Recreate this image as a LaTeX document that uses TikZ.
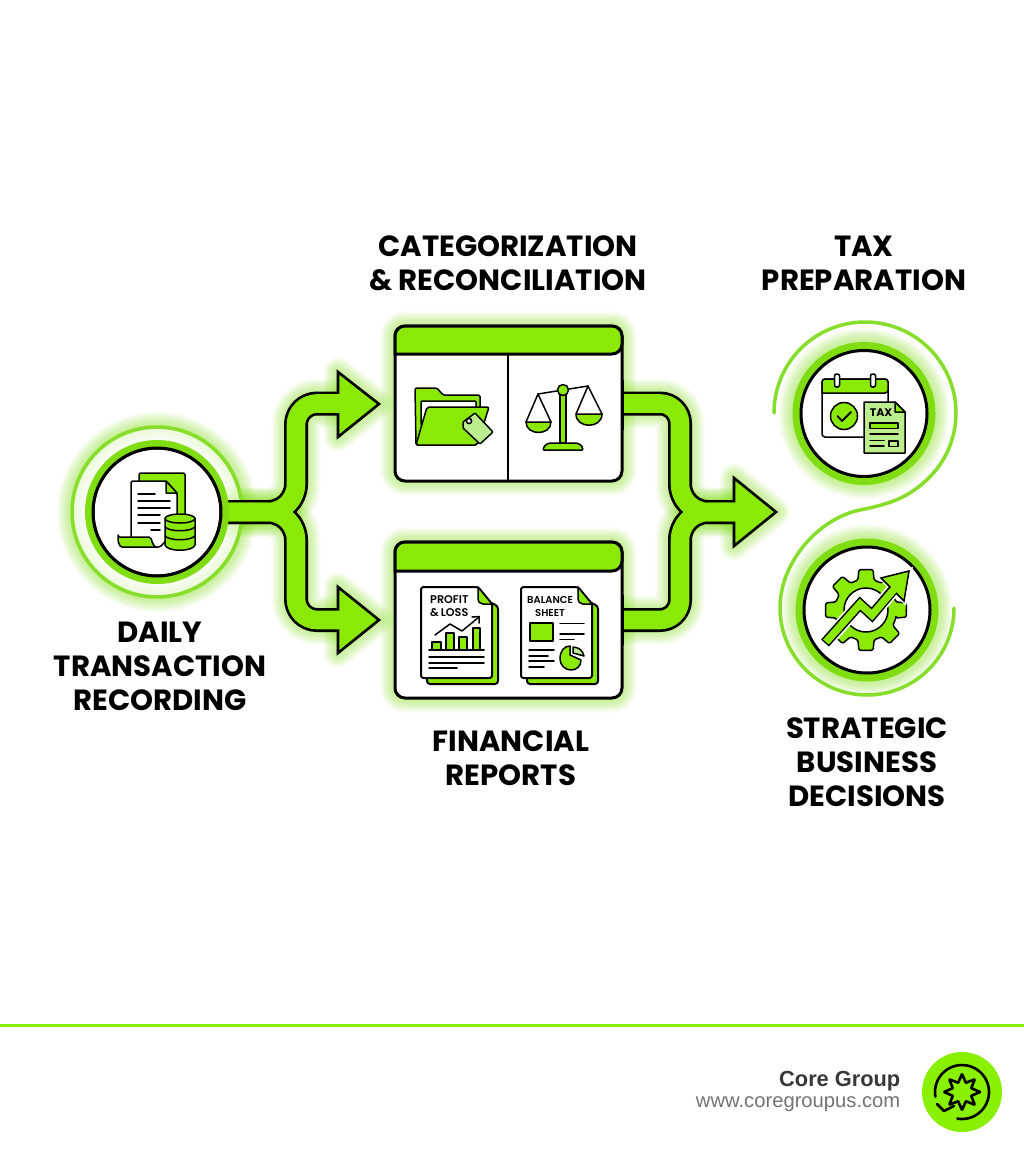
\documentclass[tikz,border=0pt]{standalone}
\usepackage{fontspec}
\setmainfont{Poppins}[BoldFont=* SemiBold]
\newfontfamily\labfont{Poppins}[UprightFont=* Bold]
\newfontfamily\footfont{Liberation Sans}
\definecolor{gfill}{HTML}{8AEA06}
\definecolor{gring}{HTML}{7FDD12}
\definecolor{gthin}{HTML}{86DE2A}
\definecolor{gglow}{HTML}{78E000}
\definecolor{gpale}{HTML}{BDEE8E}
\definecolor{gfoot}{HTML}{88F000}
\newcommand{\glowpath}[2]{\foreach \d in {3,6,...,27}{\draw[gglow,opacity=.05,line width={#1pt+\d pt},line join=round,line cap=round] #2;}}
\tikzset{
  lab/.style={font=\labfont\fontsize{29.2}{34}\selectfont,align=center,text=black,inner sep=0pt},
  small/.style={font=\rmfamily\bfseries\fontsize{11.2}{12}\selectfont,align=center,text=black,inner sep=0pt},
  ic/.style={draw=black,line width=1.5pt,line join=round,line cap=round},
  icb/.style={draw=black,line width=2pt,line join=round,line cap=round},
  ringnode/.style={circle,draw=black,line width=3pt,fill=white,minimum size=#1,inner sep=0pt},
  boxnode/.style={draw=black,line width=3pt,fill=white,rounded corners=10pt,minimum width=227pt,inner sep=0pt},
  shaftk/.style={draw=black,line width=24pt,line join=round},
  shaftg/.style={draw=gfill,line width=18.6pt,line join=round},
  headk/.style={draw=black,fill=gfill,line width=2.6pt,line join=miter},
  thin/.style={draw=gthin,line width=3.5pt,line cap=round},
}
\begin{document}
\begin{tikzpicture}[x=1pt,y=-1pt]
\useasboundingbox (0,0) rectangle (1024,1154);
\fill[white] (0,0) rectangle (1024,1154);
% anchor coordinates
\coordinate (dc) at (157,512);
\coordinate (cc) at (508.5,403.5);
\coordinate (rc) at (508.5,620);
\coordinate (tc) at (864,413.5);
\coordinate (sc) at (867,610);
\coordinate (fu) at (296,512);
\coordinate (fuc) at (296,403.5);
\coordinate (fue) at (340,403.5);
\coordinate (flc) at (296,620);
\coordinate (fle) at (340,620);
\coordinate (mu) at (680,403.5);
\coordinate (mj) at (680,512);
\coordinate (ml) at (680,620);
\coordinate (me) at (736,512);
% glows
\glowpath{22}{[rounded corners=28pt] (dc) -- (fu) [rounded corners=21pt] -- (fuc) -- (fue)}
\glowpath{22}{[rounded corners=28pt] (dc) -- (fu) [rounded corners=21pt] -- (flc) -- (fle)}
\glowpath{22}{[rounded corners=20pt] (cc) -- (mu) [rounded corners=28pt] -- (mj) -- (me)}
\glowpath{22}{[rounded corners=20pt] (rc) -- (ml) [rounded corners=28pt] -- (mj) -- (me)}
\glowpath{2}{(338,372) -- (379,404) -- (338,437) -- cycle}
\glowpath{2}{(338,587) -- (379,620) -- (338,653) -- cycle}
\glowpath{2}{(734,478) -- (776,512) -- (734,546) -- cycle}
\glowpath{2}{[rounded corners=10pt] (395,326) rectangle (622,481)}
\glowpath{2}{[rounded corners=10pt] (395,542) rectangle (622,698)}
\glowpath{3}{(dc) circle[radius=85]}
\glowpath{2}{(tc) circle[radius=71]}
\glowpath{2}{(sc) circle[radius=71]}
% ring discs
\fill[white,opacity=.65] (dc) circle[radius=83];
\fill[gring] (tc) circle[radius=71.5];
\fill[gring] (sc) circle[radius=71.5];
\draw[thin] (dc) circle[radius=85];
% nodes
\node[ringnode=128pt] (daily) at (dc) {};
\node[ringnode=126pt] (tax) at (tc) {};
\node[ringnode=126pt] (strat) at (sc) {};
% connector outlines
\draw[shaftk,rounded corners=28pt] (daily.east) -- (fu) [rounded corners=21pt] -- (fuc) -- (fue);
\draw[shaftk,rounded corners=28pt] (daily.east) -- (fu) [rounded corners=21pt] -- (flc) -- (fle);
\node[boxnode,minimum height=155pt] (cat) at (cc) {};
\node[boxnode,minimum height=156pt] (rep) at (rc) {};
\draw[shaftk,rounded corners=20pt] (cat.east |- mu) -- (mu) [rounded corners=28pt] -- (mj) -- (me);
\draw[shaftk,rounded corners=20pt] (rep.east |- ml) -- (ml) [rounded corners=28pt] -- (mj) -- (me);
% arrow heads
\draw[headk] (338,372) -- (379,404) -- (338,437) -- cycle;
\draw[headk] (338,587) -- (379,620) -- (338,653) -- cycle;
\draw[headk] (734,478) -- (776,512) -- (734,546) -- cycle;
% connector fills
\draw[shaftg,rounded corners=28pt] (daily.east) -- (fu) [rounded corners=21pt] -- (fuc) -- (fue);
\draw[shaftg,rounded corners=28pt] (daily.east) -- (fu) [rounded corners=21pt] -- (flc) -- (fle);
\draw[shaftg,rounded corners=20pt] (cat.east |- mu) -- (mu) [rounded corners=28pt] -- (mj) -- (me);
\draw[shaftg,rounded corners=20pt] (rep.east |- ml) -- (ml) [rounded corners=28pt] -- (mj) -- (me);
% ring over the stems of the first circle
\fill[gring,even odd rule] (dc) circle[radius=72] (dc) circle[radius=64];
\draw[black,line width=3pt] (daily) circle[radius=64];
% box right borders over the stems and box headers
\draw[black,line width=3pt] (622,380) -- (622,430);
\draw[black,line width=3pt] (622,595) -- (622,645);
\draw[black,line width=3pt,fill=gfill,rounded corners=10pt] (395,354) -- (395,326) -- (622,326) -- (622,354) [sharp corners] -- cycle;
\draw[black,line width=3pt,fill=gfill,rounded corners=10pt] (395,571) -- (395,542) -- (622,542) -- (622,571) [sharp corners] -- cycle;
\draw[black,line width=2.6pt] (508,354) -- (508,481);
% S line
\draw[thin] plot[domain=180:405,samples=60,smooth] ({865+91*cos(\x)},{413+91*sin(\x)})
  .. controls (908,498.5) and (889,504) .. (860,510)
  .. controls (826.4,517) and (797.2,545.3) .. (785.2,578.2)
  -- plot[domain=200:0,samples=60,smooth] ({867+87*cos(\x)},{608+87*sin(\x)});
% daily icon
\draw[ic,fill=gfill,rounded corners=2pt] (139,478) -- (139,473) -- (185,473) -- (185,517) -- (170,517) -- (139,517) -- cycle;
\draw[ic,fill=white,rounded corners=1.5pt] (131,537) -- (131,481) -- (166,481) -- (177,493) -- (177,530) -- (160,547) -- (131,547) -- cycle;
\draw[ic,fill=gfill,rounded corners=2pt] (118,537) -- (151,537) .. controls (152,543) and (154,546) .. (157,547) -- (124,547) .. controls (120,547) and (118,543) .. (118,537) -- cycle;
\draw[ic,fill=gfill] (166,481) -- (166,493) -- (177,493) -- cycle;
\draw[ic] (138,494) -- (155,494);
\draw[ic] (138,501) -- (170,501);
\draw[ic] (138,508) -- (170,508);
\draw[ic] (138,515) -- (160,515);
\draw[ic] (138,523) -- (160,523);
\draw[ic] (151,530) -- (160,530);
\draw[ic,fill=gfill] (165,518) -- (165,545) .. controls (167,552) and (193,552) .. (195,545) -- (195,518) -- cycle;
\draw[ic,fill=gfill] (180,518.5) ellipse[x radius=15,y radius=4.5];
\draw[ic] (165,527) .. controls (170,532) and (190,532) .. (195,527);
\draw[ic] (165,536) .. controls (170,541) and (190,541) .. (195,536);
% folder icon
\draw[ic,fill=gfill,rounded corners=1.5pt] (416,445) -- (415,388) -- (437,388) -- (443,395) -- (480,395) -- (480,410) -- (477,445) -- cycle;
\draw[ic,fill=white,rounded corners=1pt] (421,425) -- (421,401) -- (476,401) -- (476,425) -- cycle;
\draw[ic,fill=gfill,rounded corners=2pt] (416,445) -- (427,407) -- (489,407) -- (477,445) -- cycle;
\draw[ic,fill=gpale,rounded corners=1pt] (463,422) -- (475,413) -- (493,432) -- (480,444) -- (463,428) -- cycle;
\draw[ic,fill=white] (469,421) circle[radius=2.6];
% scales icon
\draw[ic,fill=gfill] (560,392) rectangle (566,443);
\draw[ic,fill=gfill,rounded corners=1pt] (543,450) .. controls (544,445) and (548,443) .. (552,443) -- (575,443) .. controls (579,443) and (582,445) .. (583,450) -- cycle;
\draw[ic] (538,394) -- (588,386);
\draw[ic] (538,394) -- (526,422);
\draw[ic] (538,394) -- (551,422);
\draw[ic] (588,386) -- (576,414);
\draw[ic] (588,386) -- (602,414);
\draw[ic,fill=gfill] (526,422) .. controls (526,436) and (551,436) .. (551,422) -- cycle;
\draw[ic,fill=gfill] (576,414) .. controls (576,429) and (602,429) .. (602,414) -- cycle;
\draw[ic,fill=gfill] (563,390) circle[radius=5.5];
% profit and loss
\draw[icb,fill=gfill,rounded corners=3pt] (485,600) -- (498,606) -- (498,684) -- (427,684) -- (427,670) -- cycle;
\draw[icb,fill=white,rounded corners=2.5pt] (421,587) -- (478,587) [sharp corners] -- (492,604) [rounded corners=2.5pt] -- (492,678) -- (421,678) -- cycle;
\draw[ic,fill=gfill] (478,587) -- (478,598) .. controls (478,602) and (480,604) .. (483,604) -- (492,604) -- cycle;
\node[small,anchor=west] (pl1) at (430,600) {PROFIT};
\node[small,anchor=west] (pl2) at (430,612.5) {\&\,LOSS};
\draw[ic,fill=gfill] (432,642) rectangle (441,650);
\draw[ic,fill=gfill] (446,633) rectangle (454,650);
\draw[ic,fill=gfill] (459,637) rectangle (467,650);
\draw[ic,fill=gfill] (473,628) rectangle (480,650);
\draw[icb] (429,650) -- (484,650);
\draw[ic] (429,657) -- (484,657);
\draw[ic] (429,663) -- (484,663);
\draw[ic] (429,668) -- (457,668);
\draw[ic] (435,635) -- (450,624) -- (462,631) -- (479,617);
\draw[ic] (472,617) -- (479,616.5) -- (479,623);
% balance sheet
\draw[icb,fill=gfill,rounded corners=3pt] (585,600) -- (598,606) -- (598,684) -- (527,684) -- (527,670) -- cycle;
\draw[icb,fill=white,rounded corners=2.5pt] (521,587) -- (578,587) [sharp corners] -- (592,604) [rounded corners=2.5pt] -- (592,678) -- (521,678) -- cycle;
\draw[ic,fill=gfill] (578,587) -- (578,598) .. controls (578,602) and (580,604) .. (583,604) -- (592,604) -- cycle;
\node[small,font=\rmfamily\bfseries\fontsize{10}{12}\selectfont] (bs1) at (550,600) {BALANCE};
\node[small,font=\rmfamily\bfseries\fontsize{10}{12}\selectfont] (bs2) at (550,612.5) {SHEET};
\draw[ic,fill=gfill] (530,623) rectangle (553,641);
\draw[ic] (560,623.5) -- (584,623.5);
\draw[ic] (560,634) -- (584,634);
\draw[ic] (560,639.5) -- (574,639.5);
\draw[ic] (529,650) -- (554,650);
\draw[ic] (529,656) -- (548,656);
\draw[ic] (529,661) -- (554,661);
\draw[ic] (529,667) -- (544,667);
\draw[ic,fill=gfill] (570,655) -- (570,646) .. controls (564,646) and (560,651) .. (560,659) .. controls (560,665) and (565,670) .. (571,670) .. controls (577,670) and (581,666) .. (581,660) -- cycle;
\draw[ic,fill=gpale] (573,653) -- (573,647) .. controls (579,647) and (583,651) .. (584,656) -- cycle;
% tax icon
\draw[ic,rounded corners=3pt,fill=white] (822,437) -- (822,379) -- (888,379) -- (888,437) -- cycle;
\draw[ic,fill=gfill,rounded corners=3pt] (822,393) -- (822,379) -- (888,379) -- (888,393) [sharp corners] -- cycle;
\draw[ic,fill=white,rounded corners=2pt] (834.5,374) rectangle (839.5,387);
\draw[ic,fill=white,rounded corners=2pt] (870.5,374) rectangle (875.5,387);
\draw[ic,fill=gfill] (844,416) circle[radius=13.5];
\draw[line width=1.8pt,line cap=round,line join=round] (837.5,416) -- (842,421) -- (851,412);
\draw[ic,fill=gpale] (864,402) -- (895,402) -- (905,412) -- (905,453) -- (864,453) -- cycle;
\draw[ic,fill=gfill] (895,402) -- (895,412) -- (905,412) -- cycle;
\node[small,font=\labfont\fontsize{11}{12}\selectfont] (taxt) at (881,413) {TAX};
\draw[ic,fill=gfill] (870,423) rectangle (898,428.5);
\draw[ic] (870,434) -- (898,434);
\draw[ic] (870,440.5) -- (884,440.5);
\draw[ic] (870,446) -- (884,446);
\draw[ic,fill=gpale] (889,441) rectangle (898,446.5);
% gear icon
\begin{scope}[shift={(866,610)}]
\draw[ic,fill=gfill,even odd rule,rounded corners=1.5pt] (-15:31pt)
  \foreach \a in {0,45,...,315}{ -- (\a-15:31pt) -- (\a-10:41pt) -- (\a+10:41pt) -- (\a+15:31pt) } -- cycle
  (0,0) circle[radius=22];
\end{scope}
\draw[white,line width=14pt,line join=miter] (826,642) -- (860,604) -- (872,615) -- (893,590);
\fill[white] (913,567) -- (875,575) -- (906,606) -- cycle;
\draw[black,line width=10.5pt,line join=miter] (825,643) -- (860,604) -- (872,615) -- (893,590);
\draw[ic,fill=gfill,line join=miter] (909,571) -- (881,578) -- (904,601) -- cycle;
\draw[gfill,line width=7.5pt,line join=miter] (826,642) -- (860,604) -- (872,615) -- (896,587);
% labels
\node[lab] (l1) at (160,666) {DAILY\\TRANSACTION\\RECORDING};
\node[lab] (l2) at (508,263) {CATEGORIZATION\\\&\ RECONCILIATION};
\node[lab] (l3) at (511,758) {FINANCIAL\\REPORTS};
\node[lab] (l4) at (864,263) {TAX\\PREPARATION};
\node[lab] (l5) at (867,762) {STRATEGIC\\BUSINESS\\DECISIONS};
% footer
\fill[gfoot] (0,1024) rectangle (1024,1027);
\node[anchor=base east,inner sep=0pt,font=\footfont\bfseries\fontsize{21.8}{26}\selectfont,text=black!78] (f1) at (900.5,1086) {Core Group};
\node[anchor=base east,inner sep=0pt,font=\footfont\fontsize{20.2}{22}\selectfont,text=black!55] (f2) at (900.5,1107) {www.coregroupus.com};
\fill[gfoot] (962,1092) circle[radius=40];
\begin{scope}[shift={(962,1092)}]
\draw[line width=2.6pt,line join=round,rounded corners=.5pt] (0:18pt)
  \foreach \a in {0,45,...,315}{ -- (\a:18pt) -- (\a+22.5:10pt) } -- cycle;
\draw[line width=2.6pt,line cap=round] plot[domain=100:-190,samples=40,smooth] ({27*cos(\x)},{27*sin(\x)});
\draw[line width=2.6pt,line cap=round,line join=round] (-25,12) -- (-18,19) -- (-8,14);
\end{scope}
\end{tikzpicture}
\end{document}
